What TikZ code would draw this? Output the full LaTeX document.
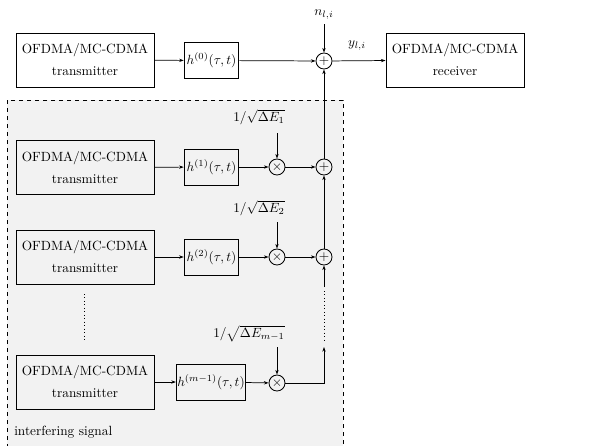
\documentclass[tikz,border=0pt]{standalone}
\usetikzlibrary{arrows.meta}
\begin{document}
\begin{tikzpicture}[x=0.75pt,y=-0.75pt,
  arr/.style={-{Stealth[length=3.5pt,width=2.5pt]},line width=0.55pt},
  ofdm/.style={draw,line width=0.65pt,minimum width=103.5pt,minimum height=40.5pt,align=center,inner sep=1pt},
  chan/.style={draw,line width=0.65pt,minimum height=27pt,inner sep=0.5pt},
  sumnode/.style={draw,circle,line width=0.65pt,minimum size=12pt,inner sep=0pt},
  dotline/.style={dotted,line width=0.6pt}]
\useasboundingbox (0,0) rectangle (603,446);
\begin{scope}
\clip (0,0) rectangle (603,446);
\draw[dashed,line width=0.6pt,fill=black!5] (7,100) rectangle (343,452);
\end{scope}
% top row
\node[ofdm] (tx0) at (85,60) {OFDMA/MC-CDMA\\[4.5pt]transmitter};
\node[chan,minimum width=41pt] (h0) at (211.5,60.5) {$h^{(0)}(\tau,t)$};
\node[sumnode] (s0) at (324,61) {$+$};
\node (n) at (324,15) {$n_{l,i}$};
\node[ofdm] (rx) at (455,60) {OFDMA/MC-CDMA\\[4.5pt]receiver};
\node (y) at (357,46) {$y_{l,i}$};
\draw[arr] (tx0) -- (h0);
\draw[arr] (h0) -- (s0);
\draw[arr] (n) -- (s0);
\draw[arr] (s0) -- (rx);
% row 1
\node[ofdm] (tx1) at (85,167.5) {OFDMA/MC-CDMA\\[4.5pt]transmitter};
\node[chan,minimum width=41pt] (h1) at (211.5,167) {$h^{(1)}(\tau,t)$};
\node[sumnode] (m1) at (277,167) {$\times$};
\node[sumnode] (s1) at (324,167) {$+$};
\node (e1) at (259,117) {$1/\sqrt{\Delta E_1}$};
\draw[arr] (tx1) -- (h1);
\draw[arr] (h1) -- (m1);
\draw[arr] (m1) -- (s1);
\draw[arr] (277,133) -- (m1);
\draw[arr] (s1) -- (s0);
% row 2
\node[ofdm] (tx2) at (85,257) {OFDMA/MC-CDMA\\[4.5pt]transmitter};
\node[chan,minimum width=41pt] (h2) at (211.5,257) {$h^{(2)}(\tau,t)$};
\node[sumnode] (m2) at (277,257) {$\times$};
\node[sumnode] (s2) at (324,257) {$+$};
\node (e2) at (259,208) {$1/\sqrt{\Delta E_2}$};
\draw[arr] (tx2) -- (h2);
\draw[arr] (h2) -- (m2);
\draw[arr] (m2) -- (s2);
\draw[arr] (277,222) -- (m2);
\draw[arr] (s2) -- (s1);
\coordinate (c2) at (324,287);
\draw[arr] (c2) -- (s2);
% dots
\draw[dotline] (84,294) -- (84,342);
\draw[dotline] (324,291) -- (324,340);
% row 3
\node[ofdm] (tx3) at (85,382) {OFDMA/MC-CDMA\\[4.5pt]transmitter};
\node[chan,minimum width=52pt] (h3) at (211,382) {$h^{(m-1)}(\tau,t)$};
\node[sumnode] (m3) at (277,383) {$\times$};
\node (e3) at (249,334) {$1/\sqrt{\Delta E_{m-1}}$};
\coordinate (c3) at (324,347);
\draw[arr] (tx3) -- (h3);
\draw[arr] (h3) -- (m3);
\draw[arr] (277,347) -- (m3);
\draw[arr] (m3) -| (c3);
\node[anchor=west,inner sep=0pt] (lab) at (14,432) {interfering signal};
\end{tikzpicture}
\end{document}
